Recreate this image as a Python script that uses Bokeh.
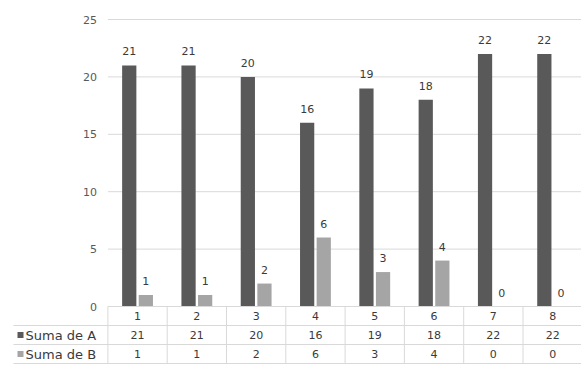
from bokeh.plotting import figure
from bokeh.models import Range1d, ColumnDataSource
from bokeh.transform import dodge
from bokeh.embed import file_html
from bokeh.resources import INLINE
from bokeh.core.properties import value

# ---- data ----
categories = [1, 2, 3, 4, 5, 6, 7, 8]
cat_labels = ["1", "2", "3", "4", "5", "6", "7", "8"]
suma_a = [21, 21, 20, 16, 19, 18, 22, 22]
suma_b = [1, 1, 2, 6, 3, 4, 0, 0]
series_names = ["Suma de A", "Suma de B"]
y_ticks = [0, 5, 10, 15, 20, 25]

# ---- layout (pixels) ----
W, H = 581, 366
CAT_PX = 59.3        # width of one category slot
LEFT_PX = 107.4      # left edge of the plot area
UNIT_PX = 11.48      # pixels per value unit
ZERO_PX = 306        # vertical position of the value 0
ROW_PX = 19          # height of one data-table row
HEAD_PX = 13         # left edge of the data-table header column
KEY_PX = 7           # legend key offset inside the header column

x_start = 0.5 - LEFT_PX / CAT_PX
x_end = x_start + W / CAT_PX
y_top = ZERO_PX / UNIT_PX
y_bottom = -(H - ZERO_PX) / UNIT_PX
ROW = ROW_PX / UNIT_PX
x_head = x_start + HEAD_PX / CAT_PX
x_key = x_head + KEY_PX / CAT_PX

COL_A = "#595959"
COL_B = "#a5a5a5"
GRID = "#d9d9d9"
TXT = "#3a3a3a"
FONT = value("DejaVu Sans")

p = figure(width=W, height=H, output_backend="svg", toolbar_location=None,
           x_range=Range1d(x_start, x_end), y_range=Range1d(y_bottom, y_top),
           x_axis_location=None, y_axis_location=None, min_border=0,
           outline_line_color=None, background_fill_color="white",
           border_fill_color="white")
p.grid.visible = False

# horizontal gridlines
p.segment(x0=[0.5] * len(y_ticks), x1=[8.5] * len(y_ticks), y0=y_ticks, y1=y_ticks,
          line_color=GRID, line_width=1)

# value-axis labels
p.text(x=[0.5] * len(y_ticks), y=y_ticks, text=[str(t) for t in y_ticks],
       x_offset=-11, text_align="right", text_baseline="middle",
       text_font=FONT, text_font_size="11px", text_color=COL_A)

src = ColumnDataSource(dict(
    cat=categories, a=suma_a, b=suma_b,
    a_lbl=[str(v) for v in suma_a], b_lbl=[str(v) for v in suma_b],
    cat_lbl=cat_labels,
    row0=[-0.5 * ROW] * len(categories),
    row1=[-1.5 * ROW] * len(categories),
    row2=[-2.5 * ROW] * len(categories),
))

OFF, BW = 0.14, 0.24
p.vbar(x=dodge("cat", -OFF, range=p.x_range), top="a", bottom=0, width=BW,
       source=src, fill_color=COL_A, line_color=None)
p.vbar(x=dodge("cat", OFF, range=p.x_range), top="b", bottom=0, width=BW,
       source=src, fill_color=COL_B, line_color=None)

# value labels above bars
p.text(x=dodge("cat", -OFF, range=p.x_range), y="a", text="a_lbl", source=src,
       y_offset=-14, text_align="center", text_baseline="middle",
       text_font=FONT, text_font_size="11px", text_color=TXT)
p.text(x=dodge("cat", OFF, range=p.x_range), y="b", text="b_lbl", source=src,
       y_offset=-14, text_align="center", text_baseline="middle",
       text_font=FONT, text_font_size="11px", text_color=TXT)

# data table grid
edges = [c - 0.5 for c in categories] + [categories[-1] + 0.5]
p.segment(x0=edges, x1=edges, y0=[0] * len(edges), y1=[-3 * ROW] * len(edges),
          line_color=GRID, line_width=1)
p.segment(x0=[0.5, x_head, x_head, x_head], x1=[8.5] * 4,
          y0=[0, -ROW, -2 * ROW, -3 * ROW], y1=[0, -ROW, -2 * ROW, -3 * ROW],
          line_color=GRID, line_width=1)

# data table contents
for col, row in (("cat_lbl", "row0"), ("a_lbl", "row1"), ("b_lbl", "row2")):
    p.text(x="cat", y=row, text=col, source=src, text_align="center",
           text_baseline="middle", text_font=FONT, text_font_size="11px",
           text_color=TXT)

# row headers with legend keys
p.scatter(x=[x_key, x_key], y=[-1.5 * ROW, -2.5 * ROW],
          marker="square", size=6, fill_color=[COL_A, COL_B], line_color=None)
p.text(x=[x_key, x_key], y=[-1.5 * ROW, -2.5 * ROW], text=series_names,
       x_offset=5, text_align="left", text_baseline="middle",
       text_font=FONT, text_font_size="13px", text_color=TXT)

open("out.html", "w").write(file_html(p, INLINE))
